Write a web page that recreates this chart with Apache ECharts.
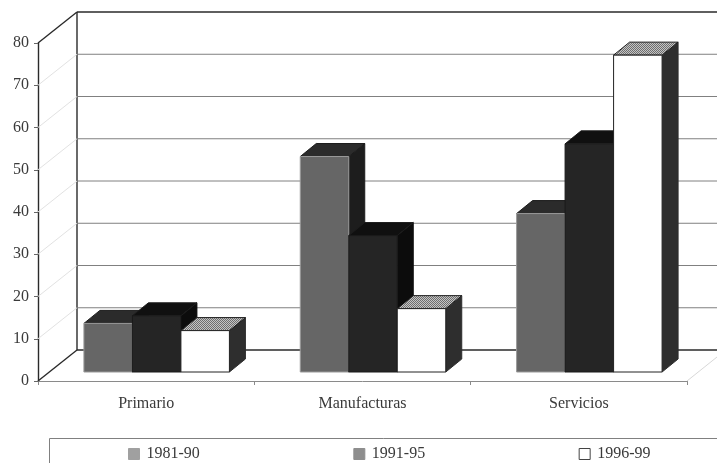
<!DOCTYPE html>
<html>
<head>
<meta charset="utf-8">
<script src="https://cdn.jsdelivr.net/npm/echarts@6/dist/echarts.min.js"></script>
<style>html,body{margin:0;padding:0;background:#fff}#c{width:717px;height:463px}</style>
</head>
<body>
<div id="c"></div>
<script>
const categories = ['Primario', 'Manufacturas', 'Servicios'];
const periods = ['1981-90', '1991-95', '1996-99'];
const values8190 = [11.5, 51, 37.5];
const values9195 = [13.3, 32.3, 54];
const values9699 = [9.8, 15, 75];
const axisTicks = [0, 10, 20, 30, 40, 50, 60, 70, 80];

// Pseudo-3D projection, in pixels
const wallDx = 39, wallDy = -31;     // front plane to back wall
const baseDx = 10.5, baseDy = -9;    // front plane to bar front face
const depthDx = 16, depthDy = -13;   // bar front face to bar back face
const barWidth = 48.5;

// Fine stipple used on the top face of the white bars
function stipple() {
  const c = document.createElement('canvas');
  c.width = c.height = 2;
  const g = c.getContext('2d');
  g.fillStyle = '#c4c4c4';
  g.fillRect(0, 0, 2, 2);
  g.fillStyle = '#6e6e6e';
  g.fillRect(0, 0, 1, 1);
  g.fillRect(1, 1, 1, 1);
  return { image: c, repeat: 'repeat' };
}

const faces = [
  { front: '#666666', edge: '#9a9a9a', top: '#2b2b2b', side: '#1d1d1d', legend: '#a0a0a0', legendEdge: '#a0a0a0' },
  { front: '#252525', edge: '#1a1a1a', top: '#101010', side: '#0c0c0c', legend: '#8e8e8e', legendEdge: '#8e8e8e' },
  { front: '#ffffff', edge: '#222222', top: stipple(), side: '#2e2e2e', legend: '#ffffff', legendEdge: '#444444' }
];

function line(x1, y1, x2, y2, stroke, lineWidth) {
  return { type: 'line', shape: { x1, y1, x2, y2 }, style: { stroke, lineWidth } };
}
function poly(points, fill, stroke) {
  return { type: 'polygon', shape: { points },
           style: { fill, stroke: stroke || fill, lineWidth: 1 } };
}

// Back wall, side wall and floor outlines, one group per axis tick
function renderWall(params, api) {
  const v = api.value(1);
  const p = api.coord([0, v]);
  const cs = params.coordSys;
  const y = p[1], x0 = cs.x, xb = x0 + wallDx, yb = y + wallDy;
  const strong = v === 0 || v === 80;
  const children = [
    line(xb, yb, 717, yb, strong ? '#2a2a2a' : '#808080', strong ? 1.4 : 1),
    line(x0, y, xb, yb, strong ? '#2a2a2a' : '#e2e2e2', strong ? 1.4 : 1)
  ];
  if (v === 0) {
    const xr = x0 + cs.width;
    children.push(line(xr, y, 717, y - 24, '#d8d8d8', 1));
    children.push(line(xb, yb, xb, yb - (y - cs.y), '#2a2a2a', 1.4));
  }
  return { type: 'group', children };
}

// One cuboid per data point: side and top faces, then the front face
function makeBars(index) {
  const f = faces[index];
  return function (params, api) {
    const top = api.coord([api.value(0), api.value(1)]);
    const bottom = api.coord([api.value(0), 0]);
    const xl = top[0] + baseDx + (index - 1.5) * barWidth;
    const xr = xl + barWidth;
    const yt = top[1] + baseDy;
    const yb = bottom[1] + baseDy;
    return { type: 'group', children: [
      poly([[xr, yt], [xr + depthDx, yt + depthDy], [xr + depthDx, yb + depthDy], [xr, yb]], f.side),
      poly([[xl, yt], [xl + depthDx, yt + depthDy], [xr + depthDx, yt + depthDy], [xr, yt]], f.top, '#1c1c1c'),
      { type: 'rect', shape: { x: xl, y: yt, width: barWidth, height: yb - yt },
        style: { fill: f.front, stroke: f.edge, lineWidth: 1 } }
    ] };
  };
}

const chart = echarts.init(document.getElementById('c'), null, { renderer: 'canvas' });
const textStyle = { fontFamily: '"Liberation Serif", serif', fontSize: 16, color: '#3a3a3a' };

const barSeries = [values8190, values9195, values9699].map((vals, i) => ({
  name: periods[i],
  type: 'custom',
  renderItem: makeBars(i),
  data: vals.map((v, c) => [c, v]),
  encode: { x: 0, y: 1 },
  itemStyle: { color: faces[i].legend },
  z: 3 + i,
  clip: false,
  silent: true
}));

chart.setOption({
  animation: false,
  backgroundColor: '#ffffff',
  textStyle,
  grid: { left: 38, top: 43, width: 649, height: 338 },
  xAxis: {
    type: 'category',
    data: categories,
    axisLine: { lineStyle: { color: '#8a8a8a', width: 1 } },
    axisTick: { show: true, length: 4, lineStyle: { color: '#8a8a8a' } },
    axisLabel: Object.assign({ margin: 15 }, textStyle)
  },
  yAxis: {
    type: 'value',
    min: 0,
    max: 80,
    interval: 10,
    splitLine: { show: false },
    axisLine: { show: true, lineStyle: { color: '#2a2a2a', width: 1.4 } },
    axisTick: { show: true, length: 4, lineStyle: { color: '#666666' } },
    axisLabel: Object.assign({ margin: 9 }, textStyle)
  },
  legend: {
    left: 128,
    top: 446,
    itemWidth: 11,
    itemHeight: 11,
    itemGap: 153.5,
    icon: 'rect',
    padding: 0,
    textStyle: Object.assign({}, textStyle, { padding: [0, 0, 0, 2] }),
    data: periods.map((name, i) => ({
      name,
      itemStyle: { color: faces[i].legend, borderColor: faces[i].legendEdge, borderWidth: 1 }
    }))
  },
  graphic: [{
    type: 'rect',
    shape: { x: 49.5, y: 438.5, width: 720, height: 60 },
    style: { fill: 'none', stroke: '#808080', lineWidth: 1 },
    z: 0
  }],
  series: [{
    type: 'custom',
    renderItem: renderWall,
    data: axisTicks.map(v => [0, v]),
    encode: { x: 0, y: 1 },
    z: 1,
    clip: false,
    silent: true
  }].concat(barSeries)
});
</script>
</body>
</html>
